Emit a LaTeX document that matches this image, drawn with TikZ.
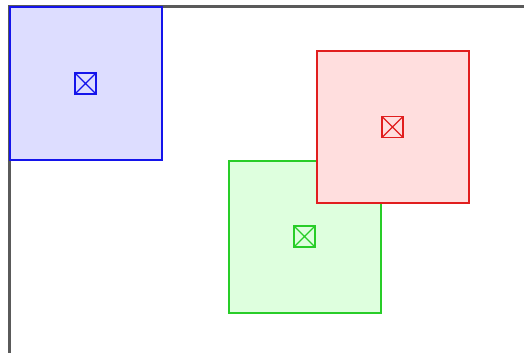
\documentclass[tikz,border=0pt]{standalone}
\definecolor{bluedge}{RGB}{20,20,235}
\definecolor{bluefill}{RGB}{221,221,255}
\definecolor{rededge}{RGB}{225,30,30}
\definecolor{redfill}{RGB}{255,222,222}
\definecolor{greenedge}{RGB}{40,205,40}
\definecolor{greenfill}{RGB}{222,255,222}
\definecolor{axisgray}{RGB}{90,90,90}
\begin{document}
\begin{tikzpicture}[x=1pt,y=-1pt,
  region/.style 2 args={draw=#1, fill=#2, line width=2pt, minimum size=152pt, inner sep=0pt, outer sep=0pt},
  marker/.style={draw=#1, line width=1.6pt, minimum size=21pt, inner sep=0pt,
     path picture={\draw[#1, line width=1.3pt] (path picture bounding box.north west) -- (path picture bounding box.south east)
        (path picture bounding box.north east) -- (path picture bounding box.south west);}},
  axisline/.style={draw=axisgray, line width=3pt}]
\useasboundingbox (0,0) rectangle (524,353);
\coordinate (origin) at (9,7);
\coordinate (xend) at (524,7);
\coordinate (yend) at (9,353);
\draw[axisline] (xend) -- (origin) -- (yend);
\node[region={bluedge}{bluefill}] (blue) at (85.5,83.5) {};
\node[marker=bluedge] (bluec) at (blue.center) {};
\node[region={greenedge}{greenfill}] (green) at (304.5,236.5) {};
\node[marker=greenedge] (greenc) at (green.center) {};
\node[region={rededge}{redfill}] (red) at (392.5,127) {};
\node[marker=rededge] (redc) at (red.center) {};
\end{tikzpicture}
\end{document}
